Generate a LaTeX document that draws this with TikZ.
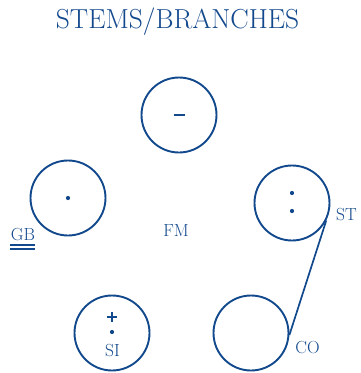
\documentclass[tikz,border=0pt]{standalone}
\definecolor{inkblue}{RGB}{18,72,140}
\begin{document}
\begin{tikzpicture}[x=1pt,y=-1pt,
  ring/.style={circle,draw=inkblue,line width=1.9pt,minimum size=75pt,inner sep=0pt},
  lbl/.style={text=inkblue,anchor=base,font=\fontsize{17.5}{20}\selectfont,inner sep=0pt}]
\useasboundingbox (0,0) rectangle (360,373);
\node[text=inkblue,anchor=base,inner sep=0pt,font=\fontsize{27.5}{30}\selectfont] (title) at (177.5,28) {STEMS/BRANCHES};
\node[ring] (top) at (179,115) {};
\node[ring] (gb) at (68,198) {};
\node[ring] (st) at (292,203) {};
\node[ring] (si) at (112,333) {};
\node[ring] (co) at (251,333) {};
\draw[inkblue,line width=1.7pt] (st.-27) -- (co.-3);
% marks inside the circles
\draw[inkblue,line width=2.2pt] (173.5,115) -- (184.5,115);
\fill[inkblue] (68,198) circle (2.1);
\fill[inkblue] (292,193) circle (2.1);
\fill[inkblue] (292,211) circle (2.1);
\draw[inkblue,line width=2pt] (107,317) -- (117,317) (112,312) -- (112,322);
\fill[inkblue] (112,332) circle (2.1);
% labels
\node[lbl] (silbl) at (112.5,356) {SI};
\node[lbl] (gblbl) at (23,240) {GB};
\node[lbl] (fm) at (176,236) {FM};
\node[lbl] (stlbl) at (346.5,220) {ST};
\node[lbl] (colbl) at (307.5,353) {CO};
\draw[inkblue,line width=1.3pt] (10,245) -- (35,245) (10,249) -- (35,249);
\end{tikzpicture}
\end{document}
